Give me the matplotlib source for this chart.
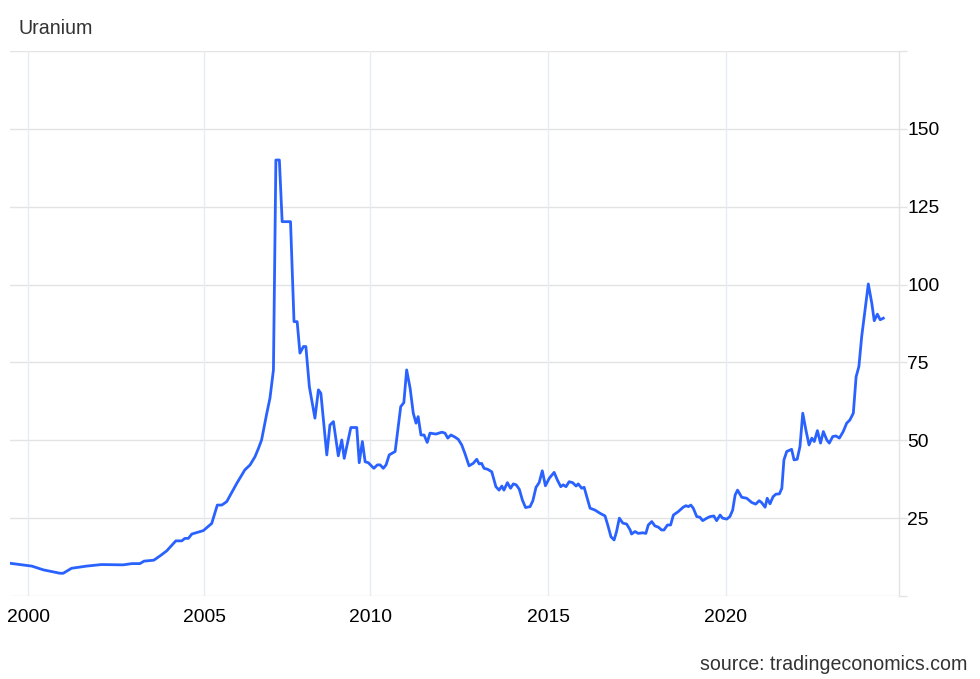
import matplotlib
matplotlib.use("Agg")
import matplotlib.pyplot as plt

plt.rcParams['font.family'] = ['Liberation Sans', 'DejaVu Sans']

title = "Uranium"
source = "source: tradingeconomics.com"

years = [
    1999.48, 2000.10, 2000.43, 2000.91, 2001.00, 2001.24, 2001.67, 2002.10, 2002.72, 2002.97,
    2003.20, 2003.32, 2003.60, 2003.78, 2003.97, 2004.23, 2004.40, 2004.49, 2004.59, 2004.69,
    2005.02, 2005.26, 2005.42, 2005.55, 2005.69, 2005.98, 2006.21, 2006.36, 2006.50, 2006.60,
    2006.69, 2006.84, 2006.93, 2007.03, 2007.10, 2007.20, 2007.28, 2007.52, 2007.62, 2007.71,
    2007.79, 2007.89, 2007.96, 2008.06, 2008.22, 2008.32, 2008.39, 2008.56, 2008.65, 2008.75,
    2008.89, 2008.99, 2009.06, 2009.25, 2009.42, 2009.49, 2009.58, 2009.66, 2009.75, 2009.91,
    2010.01, 2010.09, 2010.18, 2010.26, 2010.35, 2010.52, 2010.68, 2010.77, 2010.85, 2010.95,
    2011.04, 2011.12, 2011.18, 2011.26, 2011.35, 2011.44, 2011.52, 2011.69, 2011.86, 2011.95,
    2012.03, 2012.12, 2012.24, 2012.33, 2012.43, 2012.52, 2012.64, 2012.76, 2012.86, 2012.93,
    2013.00, 2013.07, 2013.17, 2013.29, 2013.41, 2013.50, 2013.58, 2013.64, 2013.74, 2013.83,
    2013.91, 2013.99, 2014.08, 2014.17, 2014.26, 2014.39, 2014.47, 2014.56, 2014.65, 2014.74,
    2014.83, 2014.94, 2015.08, 2015.17, 2015.27, 2015.34, 2015.42, 2015.51, 2015.61, 2015.71,
    2015.77, 2015.87, 2015.94, 2016.01, 2016.11, 2016.25, 2016.39, 2016.54, 2016.63, 2016.71,
    2016.80, 2016.87, 2016.95, 2017.05, 2017.16, 2017.26, 2017.30, 2017.40, 2017.49, 2017.62,
    2017.71, 2017.78, 2017.88, 2017.97, 2018.07, 2018.16, 2018.23, 2018.33, 2018.42, 2018.50,
    2018.64, 2018.78, 2018.86, 2018.93, 2019.00, 2019.07, 2019.17, 2019.26, 2019.34, 2019.46,
    2019.55, 2019.66, 2019.74, 2019.84, 2019.91, 2020.03, 2020.12, 2020.20, 2020.27, 2020.34,
    2020.46, 2020.60, 2020.75, 2020.86, 2020.96, 2021.03, 2021.13, 2021.19, 2021.27, 2021.36,
    2021.44, 2021.54, 2021.61, 2021.67, 2021.75, 2021.89, 2021.96, 2022.05, 2022.13, 2022.21,
    2022.30, 2022.39, 2022.47, 2022.54, 2022.63, 2022.72, 2022.80, 2022.90, 2022.97, 2023.07,
    2023.16, 2023.26, 2023.37, 2023.47, 2023.56, 2023.66, 2023.74, 2023.82, 2023.90, 2024.09,
    2024.19, 2024.26, 2024.35, 2024.43, 2024.52,
]
prices = [
    10.5, 9.6, 8.4, 7.3, 7.3, 8.9, 9.6, 10.1, 10.0, 10.4,
    10.4, 11.2, 11.5, 12.9, 14.5, 17.7, 17.7, 18.5, 18.5, 19.9,
    21.0, 23.3, 29.2, 29.2, 30.3, 36.2, 40.5, 42.1, 44.7, 47.4,
    50.1, 58.7, 63.5, 72.6, 140.0, 140.0, 120.2, 120.2, 88.1, 88.1,
    78.0, 80.1, 80.1, 67.2, 57.1, 66.2, 65.1, 45.3, 54.9, 56.0,
    45.0, 50.1, 44.2, 54.1, 54.1, 42.8, 49.6, 43.1, 42.8, 41.0,
    42.1, 42.1, 41.0, 42.1, 45.3, 46.4, 60.8, 62.1, 72.6, 66.7,
    58.7, 55.5, 57.6, 51.7, 51.7, 49.3, 52.3, 52.0, 52.6, 52.3,
    50.7, 51.7, 51.0, 50.3, 48.5, 45.8, 41.8, 42.6, 43.9, 42.4,
    42.6, 41.0, 40.7, 39.9, 35.1, 34.0, 35.3, 34.0, 36.4, 34.6,
    36.0, 35.7, 34.3, 30.8, 28.4, 28.7, 30.6, 34.9, 36.4, 40.2,
    35.4, 37.8, 39.7, 37.3, 35.1, 35.7, 35.1, 36.7, 36.4, 35.3,
    36.0, 34.6, 34.9, 32.1, 28.2, 27.6, 26.6, 25.7, 22.3, 19.0,
    18.0, 20.7, 25.0, 23.4, 23.1, 21.2, 19.9, 20.7, 20.1, 20.3,
    20.1, 22.8, 23.9, 22.5, 22.1, 21.2, 21.2, 22.8, 22.8, 26.0,
    27.1, 28.5, 29.0, 28.7, 29.2, 28.2, 25.5, 25.3, 24.2, 25.0,
    25.5, 25.7, 24.2, 26.0, 25.0, 24.7, 25.5, 27.6, 32.4, 34.0,
    31.7, 31.4, 30.0, 29.5, 30.6, 30.0, 28.5, 31.4, 29.6, 31.9,
    32.7, 32.8, 34.6, 43.7, 46.4, 47.1, 43.7, 43.9, 48.0, 58.7,
    53.3, 48.5, 50.7, 49.6, 53.1, 49.1, 52.8, 50.1, 49.1, 51.2,
    51.4, 50.7, 52.8, 55.5, 56.5, 58.7, 70.4, 73.7, 83.3, 100.2,
    94.0, 88.4, 90.5, 88.7, 89.2,
]

# tick positions as placed on the reference's (slightly uneven) time axis
x_tick_pos = [2000.0, 2005.04, 2009.81, 2014.91, 2020.0]
x_tick_labels = ["2000", "2005", "2010", "2015", "2020"]
y_ticks = [0, 25, 50, 75, 100, 125, 150, 175]
y_ticklabels = ["", "25", "50", "75", "100", "125", "150", ""]

fig = plt.figure(figsize=(9.8, 6.79), dpi=100)
ax = fig.add_axes([10/980, 1 - 596/679, (899 - 10)/980, (596 - 51)/679])

ax.plot(years, prices, color='#2962FF', linewidth=2.0, solid_joinstyle='round', zorder=3)

ax.set_xlim(1999.475, 2024.97)
ax.set_ylim(0, 175)

ax.set_xticks(x_tick_pos)
ax.set_xticklabels(x_tick_labels)
ax.set_yticks(y_ticks)
ax.set_yticklabels(y_ticklabels)

ax.yaxis.tick_right()
ax.tick_params(axis='y', which='both', length=6, color='#e3e3e3', width=1,
               labelsize=13.9, labelcolor='#000000', pad=0)
ax.tick_params(axis='x', which='both', length=0, labelsize=13.9,
               labelcolor='#000000', pad=9)

for y in y_ticks:
    ax.axhline(y, color='#e3e3e3', linewidth=1, zorder=1)
for x in x_tick_pos:
    ax.axvline(x, color='#e6edf2', linewidth=1, zorder=1)

for s in ['left', 'top', 'bottom']:
    ax.spines[s].set_visible(False)
ax.spines['right'].set_color('#e3e3e3')
ax.spines['right'].set_linewidth(1)

fig.text(18/980, 1 - 28/679, title, fontsize=14.1, color='#333333',
         ha='left', va='center')
fig.text(967/980, 1 - 664/679, source, fontsize=14.1, color='#333333',
         ha='right', va='center')

fig.savefig('out.png', dpi=100, facecolor='white')
